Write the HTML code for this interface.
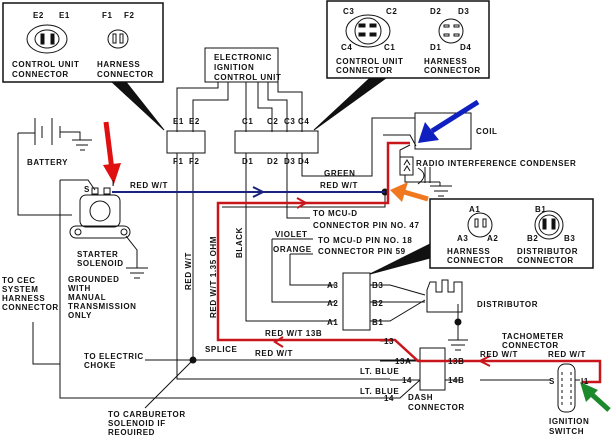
<!DOCTYPE html>
<html><head><style>
html,body{margin:0;padding:0;background:#fff}
svg{display:block}
text{font-family:"Liberation Sans",sans-serif;font-size:8px;font-weight:bold;fill:#111;letter-spacing:0.6px}
</style></head><body>
<svg width="612" height="435" viewBox="0 0 612 435" xmlns="http://www.w3.org/2000/svg">
<g fill="none" stroke="#111" stroke-width="1">
<!-- callout top-left -->
<rect x="3" y="3" width="160" height="79" stroke-width="1.5"/>
<polygon points="112,82 126,82 164,130" fill="#111"/>
<ellipse cx="47" cy="39" rx="20" ry="14"/>
<ellipse cx="47" cy="39" rx="12" ry="9"/>
<rect x="41" y="34" width="3" height="10" fill="#111"/><rect x="51" y="34" width="3" height="10" fill="#111"/>
<ellipse cx="118" cy="39" rx="10" ry="9"/>
<rect x="113" y="34" width="3" height="9"/><rect x="120" y="34" width="3" height="9"/>
<!-- callout top-right -->
<rect x="327" y="1" width="162" height="77" stroke-width="1.5"/>
<polygon points="370,78 386,78 314,130" fill="#111"/>
<ellipse cx="368" cy="31" rx="22" ry="16"/><ellipse cx="368" cy="31" rx="13" ry="13"/>
<rect x="359" y="24" width="6" height="3" fill="#111"/><rect x="370" y="24" width="6" height="3" fill="#111"/>
<rect x="359" y="33" width="6" height="3" fill="#111"/><rect x="370" y="33" width="6" height="3" fill="#111"/>
<circle cx="451" cy="31" r="12"/>
<rect x="444" y="25" width="5" height="2"/><rect x="454" y="25" width="5" height="2"/>
<rect x="444" y="34" width="5" height="2"/><rect x="454" y="34" width="5" height="2"/>
<!-- ECU -->
<rect x="205" y="48" width="73" height="34"/>
<path d="M218 82V88H177V132M228 82V100H193V132M246 82V132M258 82V108H272V132M268 82V100H287V132M278 82V92H302V132"/>
<rect x="167" y="131" width="38" height="22"/>
<rect x="235" y="131" width="83" height="22"/>
<path d="M177 153V379H390M193 153V360M246 153V321H335M287 153V218H310M302 153V176H372V118H415"/>
<path d="M272 239H313M272 239V302H335M290 254H313M290 254V285H335"/>
<path d="M222 207H385V192M145 360H420M60 180H88L95 190M60 180V398H390M18 133V215H72M33 322V364H60"/>
<path d="M193 360L145 408"/>
<circle cx="193" cy="360" r="3" fill="#111"/>
<circle cx="385" cy="192" r="3" fill="#111"/>
<!-- battery -->
<path d="M35 118V145M42 126V138M52 118V145M60 126V138M60 132H80V140M72 140H92M76 145H88M80 150H85M18 133H35"/>
<!-- solenoid -->
<rect x="80" y="195" width="40" height="32" rx="6"/>
<circle cx="100" cy="211" r="10"/>
<rect x="70" y="226" width="60" height="12" rx="6"/>
<circle cx="78" cy="232" r="3"/><circle cx="124" cy="232" r="3"/>
<rect x="92" y="188" width="6" height="6"/><rect x="104" y="188" width="6" height="6"/>
<path d="M126 236L137 250V268M126 268H148M130 273H144M134 278H140"/>
<!-- coil -->
<rect x="415" y="113" width="56" height="36"/>
<path d="M383 135H410L416 146M400 157H413V175H400ZM404 165L407 160L410 165M404 171L407 166L410 171M405 175V182H440M425 167V183M430 167V183M440 182V186M430 186H452M434 191H448M438 196H444M400 157V150L410 145"/>
<path d="M418 168Q430 175 418 184"/>
<!-- bottom-right callout -->
<rect x="430" y="199" width="163" height="69" stroke-width="1.5"/>
<polygon points="430,244 430,258 370,274" fill="#111"/>
<circle cx="480" cy="225" r="12"/><rect x="475" y="219" width="3" height="8"/><rect x="483" y="219" width="3" height="8"/>
<circle cx="549" cy="225" r="14"/><circle cx="549" cy="225" r="10"/>
<rect x="543" y="219" width="3" height="10" fill="#111"/><rect x="552" y="219" width="3" height="10" fill="#111"/>
<!-- distributor connector -->
<rect x="343" y="273" width="27" height="57"/>
<path d="M370 285H390L425 295M370 302H425M370 321H390L425 300M458 304V322M458 322V340M448 340H468M451 345H465M455 350H461"/>
<path d="M427 312V290L430 282H436V292H442V280H448V292H454V282H462V312Z"/>
<circle cx="458" cy="322" r="3" fill="#111"/>
<!-- dash connector -->
<rect x="420" y="348" width="25" height="42"/>
<path d="M380 341H390L395 340M380 361H420M390 380H420M390 398H400L420 380M445 361H462M445 380H462M480 380H550M500 361H560M575 380H580"/>
<!-- ignition switch -->
<rect x="558" y="364" width="17" height="48" rx="7"/>
<path d="M562 372V406M571 372V406" stroke-dasharray="3,3"/>
</g>
<!-- red wire -->
<path d="M410 143H388V203H218V340H395L418 361H600V382H582" fill="none" stroke="#c8161c" stroke-width="2.5"/>
<path d="M297 198L306 203L297 208M283 337L275 342L283 347M490 356L480 361L490 366" fill="none" stroke="#c8161c" stroke-width="2"/>
<!-- blue wire -->
<path d="M112 192H385" stroke="#1a237e" stroke-width="2" fill="none"/>
<path d="M253 187L263 192L253 197" stroke="#1a237e" stroke-width="2" fill="none"/>
<!-- annotation arrows -->
<path d="M106 122L112 170" stroke="#e01010" stroke-width="5"/><polygon points="103,165 121,163 114,184" fill="#e01010"/>
<path d="M478 102L432 131" stroke="#1020c0" stroke-width="5"/><polygon points="425,122 439,140 418,143" fill="#1020c0"/>
<path d="M428 199L404 192" stroke="#f07820" stroke-width="5"/><polygon points="408,182 402,202 390,190" fill="#f07820"/>
<path d="M609 410L588 391" stroke="#1a8a2a" stroke-width="5"/><polygon points="580,382 598,390 586,402" fill="#1a8a2a"/>
<!-- text -->
<text x="33" y="18">E2</text><text x="59" y="18">E1</text>
<text x="102" y="18">F1</text><text x="124" y="18">F2</text>
<text x="12" y="67">CONTROL UNIT</text><text x="12" y="77">CONNECTOR</text>
<text x="97" y="67">HARNESS</text><text x="97" y="77">CONNECTOR</text>
<text x="214" y="60">ELECTRONIC</text><text x="214" y="70">IGNITION</text><text x="214" y="80">CONTROL UNIT</text>
<text x="173" y="124">E1</text><text x="189" y="124">E2</text>
<text x="242" y="124">C1</text><text x="267" y="124">C2</text><text x="284" y="124">C3</text><text x="298" y="124">C4</text>
<text x="173" y="164">F1</text><text x="189" y="164">F2</text>
<text x="242" y="164">D1</text><text x="267" y="164">D2</text><text x="284" y="164">D3</text><text x="298" y="164">D4</text>
<text x="343" y="14">C3</text><text x="386" y="14">C2</text><text x="341" y="50">C4</text><text x="384" y="50">C1</text>
<text x="430" y="14">D2</text><text x="458" y="14">D3</text><text x="430" y="50">D1</text><text x="460" y="50">D4</text>
<text x="336" y="64">CONTROL UNIT</text><text x="336" y="73">CONNECTOR</text>
<text x="424" y="64">HARNESS</text><text x="424" y="73">CONNECTOR</text>
<text x="476" y="134">COIL</text>
<text x="416" y="166">RADIO INTERFERENCE CONDENSER</text>
<text x="27" y="165">BATTERY</text>
<text x="84" y="192">S</text><text x="112" y="186" font-size="7">I</text>
<text x="130" y="188">RED W/T</text><text x="320" y="188">RED W/T</text>
<text x="324" y="176">GREEN</text>
<text x="313" y="216" font-size="9.5" letter-spacing="0.2">TO MCU-D</text>
<text x="313" y="228" font-size="9.5" letter-spacing="0.2">CONNECTOR PIN NO. 47</text>
<text x="318" y="243" font-size="9.5" letter-spacing="0.2">TO MCU-D PIN NO. 18</text>
<text x="318" y="254" font-size="9.5" letter-spacing="0.2">CONNECTOR PIN 59</text>
<text x="275" y="237" font-size="7.5">VIOLET</text><text x="273" y="252" font-size="7.5">ORANGE</text>
<text x="77" y="257">STARTER</text><text x="77" y="266">SOLENOID</text>
<text x="68" y="282">GROUNDED</text><text x="68" y="291">WITH</text><text x="68" y="300">MANUAL</text><text x="68" y="309">TRANSMISSION</text><text x="68" y="318">ONLY</text>
<text x="2" y="283">TO CEC</text><text x="2" y="292">SYSTEM</text><text x="2" y="301">HARNESS</text><text x="2" y="310">CONNECTOR</text>
<text x="84" y="359">TO ELECTRIC</text><text x="84" y="368">CHOKE</text>
<text x="108" y="417">TO CARBURETOR</text><text x="108" y="426">SOLENOID IF</text><text x="108" y="435">REQUIRED</text>
<text x="205" y="352">SPLICE</text>
<text x="265" y="336">RED W/T  13B</text><text x="255" y="356">RED W/T</text>
<text x="360" y="374">LT. BLUE</text><text x="360" y="394">LT. BLUE</text>
<text transform="translate(191,290) rotate(-90)">RED W/T</text>
<text transform="translate(216,318) rotate(-90)">RED W/T 1.35 OHM</text>
<text transform="translate(242,258) rotate(-90)">BLACK</text>
<text x="469" y="212">A1</text><text x="535" y="212">B1</text>
<text x="457" y="241">A3</text><text x="487" y="241">A2</text><text x="527" y="241">B2</text><text x="564" y="241">B3</text>
<text x="447" y="254">HARNESS</text><text x="447" y="263">CONNECTOR</text>
<text x="517" y="254">DISTRIBUTOR</text><text x="517" y="263">CONNECTOR</text>
<text x="327" y="288">A3</text><text x="327" y="306">A2</text><text x="327" y="325">A1</text>
<text x="372" y="288">B3</text><text x="372" y="306">B2</text><text x="372" y="325">B1</text>
<text x="477" y="307">DISTRIBUTOR</text>
<text x="384" y="344">13</text><text x="395" y="364">13A</text><text x="448" y="364">13B</text>
<text x="402" y="383">14</text><text x="448" y="383">14B</text><text x="384" y="401">14</text>
<text x="408" y="400">DASH</text><text x="408" y="410">CONNECTOR</text>
<text x="502" y="339">TACHOMETER</text><text x="502" y="348">CONNECTOR</text>
<text x="480" y="357">RED W/T</text><text x="548" y="357">RED W/T</text>
<text x="549" y="384">S</text><text x="581" y="384">I1</text>
<text x="549" y="424">IGNITION</text><text x="549" y="434">SWITCH</text>
</svg>
</body></html>
